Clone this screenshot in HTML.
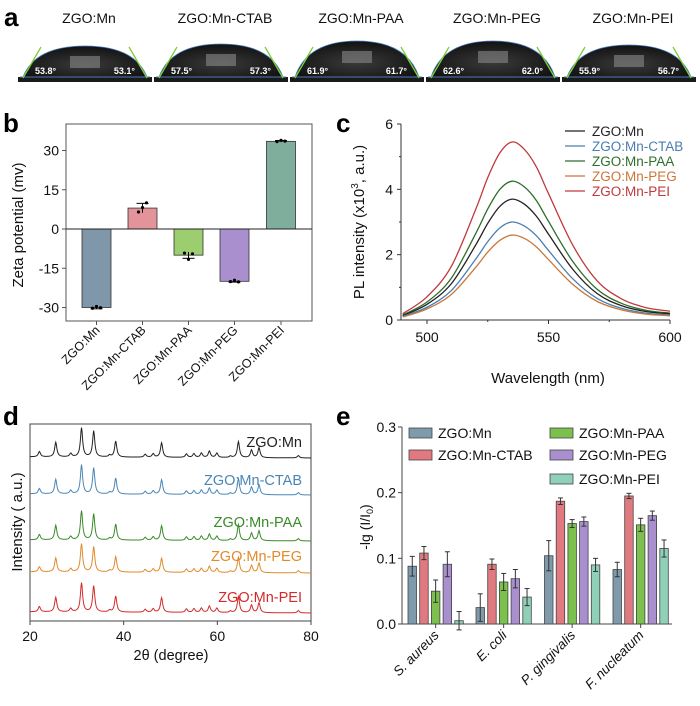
<!DOCTYPE html>
<html><head><meta charset="utf-8">
<style>
body{margin:0;background:#fff;}
svg{display:block;font-family:"Liberation Sans",Arial,sans-serif;}
</style></head>
<body>
<svg id="fig" width="700" height="706" viewBox="0 0 700 706" xmlns="http://www.w3.org/2000/svg">
<defs>
<radialGradient id="dropg" cx="0.5" cy="0.6" r="0.6">
<stop offset="0" stop-color="#3a3a3a"/><stop offset="1" stop-color="#111"/>
</radialGradient>
</defs>
<g id="panelA"></g>
<g id="panelB"></g>
<g id="panelC"></g>
<g id="panelD"></g>
<g id="panelE"></g>
</svg>
<script>
// ---------- DATA ----------
const samples = ["ZGO:Mn","ZGO:Mn-CTAB","ZGO:Mn-PAA","ZGO:Mn-PEG","ZGO:Mn-PEI"];
const angleLeft = ["53.8°","57.5°","61.9°","62.6°","55.9°"];
const angleRight = ["53.1°","57.3°","61.7°","62.0°","56.7°"];
const dropHeights = [31, 33, 36, 36, 32];

const zetaValues = [-30, 8, -10, -20, 33.5];
const zetaErrors = [0.5, 1.8, 1.2, 0.3, 0.3];
const zetaDots = [[-30.3,-29.6,-30.1],[6.5,8.2,10],[-9.2,-11.6,-9.5],[-20.1,-19.6,-20.2],[33.4,33.9,33.6]];
const zetaTicks = [-30,-15,0,15,30];

const wavelengths = [490,500,510,520,525,530,535,540,545,550,560,570,580,590,600];
const plMn   = [0.13,0.48,1.11,2.29,2.96,3.48,3.7,3.55,3.18,2.63,1.55,0.81,0.44,0.26,0.19];
const plCTAB = [0.11,0.39,0.9,1.86,2.4,2.82,3.0,2.88,2.58,2.13,1.26,0.66,0.36,0.21,0.15];
const plPAA  = [0.15,0.55,1.28,2.64,3.4,4.0,4.25,4.08,3.66,3.02,1.79,0.94,0.51,0.3,0.21];
const plPEG  = [0.09,0.34,0.78,1.61,2.08,2.44,2.6,2.5,2.24,1.85,1.09,0.57,0.31,0.18,0.13];
const plPEI  = [0.19,0.71,1.64,3.38,4.36,5.12,5.45,5.23,4.69,3.87,2.29,1.2,0.65,0.38,0.27];
const plTicksY = [0,2,4,6];
const plTicksX = [500,550,600];

const xrdPeakPos = [22.0,25.5,28.7,31.0,33.6,37.0,38.3,44.6,46.3,48.1,53.4,55.0,56.6,58.3,59.9,62.8,64.5,67.3,68.9,77.3];
const xrdPeakHt  = [0.18,0.5,0.12,1.0,0.9,0.06,0.55,0.1,0.12,0.5,0.12,0.13,0.15,0.22,0.15,0.05,0.55,0.26,0.34,0.08];
const xrdScale = [29, 29, 29, 28, 29];
const xrdTicks = [20,40,60,80];

const bacteria = ["S. aureus","E. coli","P. gingivalis","F. nucleatum"];
const absMn   = [0.088,0.025,0.104,0.083];
const absCTAB = [0.108,0.091,0.187,0.195];
const absPAA  = [0.050,0.064,0.153,0.151];
const absPEG  = [0.091,0.069,0.156,0.165];
const absPEI  = [0.005,0.041,0.090,0.115];
const errMn   = [0.015,0.021,0.023,0.011];
const errCTAB = [0.010,0.008,0.005,0.004];
const errPAA  = [0.017,0.013,0.006,0.010];
const errPEG  = [0.019,0.014,0.007,0.007];
const errPEI  = [0.014,0.013,0.010,0.013];
const absTicks = [0.0,0.1,0.2,0.3];

// ---------- HELPERS ----------
const NS="http://www.w3.org/2000/svg";
function mk(tag, attrs, parent, text){
  const e=document.createElementNS(NS,tag);
  for(const k in attrs) e.setAttribute(k,attrs[k]);
  if(text!==undefined) e.textContent=text;
  parent.appendChild(e); return e;
}
function panelLabel(g, ch, x, y){
  const t=mk('text',{x:x,y:y,'font-size':26,'font-weight':'bold',fill:'#000'},g,ch);
  
  
}
function smoothPath(pts){
  let d="M"+pts[0][0]+","+pts[0][1];
  for(let i=0;i<pts.length-1;i++){
    const p0=pts[Math.max(i-1,0)],p1=pts[i],p2=pts[i+1],p3=pts[Math.min(i+2,pts.length-1)];
    const c1=[p1[0]+(p2[0]-p0[0])/6,p1[1]+(p2[1]-p0[1])/6];
    const c2=[p2[0]-(p3[0]-p1[0])/6,p2[1]-(p3[1]-p1[1])/6];
    d+=" C"+c1[0].toFixed(2)+","+c1[1].toFixed(2)+" "+c2[0].toFixed(2)+","+c2[1].toFixed(2)+" "+p2[0].toFixed(2)+","+p2[1].toFixed(2);
  }
  return d;
}

// ---------- PANEL A ----------
(function(){
  const g=document.getElementById('panelA');
  panelLabel(g,'a',4,26);
  const x0=[18,154,290,426,562], w=134;
  samples.forEach((s,i)=>{
    const t=mk('text',{x:x0[i]+w/2+4,y:23,'font-size':14,'text-anchor':'middle',fill:'#111'},g,s);
    
    
    const img=mk('g',{},g);
    
    
    mk('rect',{x:x0[i],y:40,width:w,height:42,fill:'#fff'},img);
    const base=77, h=dropHeights[i];
    const l=x0[i]+5, r=x0[i]+w-5, cx=(l+r)/2;
    mk('path',{d:`M${l},${base} Q${l+12},${base-h} ${cx},${base-h} Q${r-12},${base-h} ${r},${base} Z`,fill:'url(#dropg)',stroke:'#4a7cc0','stroke-width':0.8},img);
    mk('rect',{x:cx-15,y:base-h+10,width:30,height:12,fill:'#888',opacity:0.6},img);
    mk('rect',{x:x0[i],y:base,width:w,height:5,fill:'#1a1a1a'},img);
    mk('line',{x1:x0[i]+2,y1:base,x2:x0[i]+w-2,y2:base,stroke:'#4a7cc0','stroke-width':1},img);
    mk('line',{x1:l,y1:base+1,x2:l+18,y2:base-30,stroke:'#7ccf3a','stroke-width':1.3},img);
    mk('line',{x1:r,y1:base+1,x2:r-18,y2:base-30,stroke:'#7ccf3a','stroke-width':1.3},img);
    const a1=mk('text',{x:l+12,y:base-3,'font-size':9,'font-weight':'bold',fill:'#fff'},img,angleLeft[i]);
    
    
    const a2=mk('text',{x:r-12,y:base-3,'font-size':9,'font-weight':'bold',fill:'#fff','text-anchor':'end'},img,angleRight[i]);
    
    
  });
})();

// ---------- PANEL B ----------
(function(){
  const g=document.getElementById('panelB');
  panelLabel(g,'b',3,132);
  const L=66,R=312,T=124,B=321;
  const y=v=>229-(v/30)*78.5;
  const centers=[96.5,142.5,188.5,234.5,281];
  const bw=29;
  const colors=['#7f97a8','#e3949a','#9ccd6f','#a98fce','#80ae9c'];
  const frame=mk('rect',{x:L,y:T,width:R-L,height:B-T,fill:'none',stroke:'#555','stroke-width':1},g);
  
  
  zetaTicks.forEach(t=>{
    mk('line',{x1:L-4,y1:y(t),x2:L,y2:y(t),stroke:'#555'},g);
    const tl=mk('text',{x:L-7,y:y(t)+5,'font-size':14,'text-anchor':'end',fill:'#111'},g,String(t));
    
    
  });
  zetaValues.forEach((v,i)=>{
    const b=mk('rect',{x:centers[i]-bw/2,y:Math.min(y(v),y(0)),width:bw,height:Math.abs(y(v)-y(0)),fill:colors[i],stroke:'#333','stroke-width':0.8},g);
    
    
    const e=zetaErrors[i];
    mk('line',{x1:centers[i],y1:y(v-e),x2:centers[i],y2:y(v+e),stroke:'#000'},g);
    mk('line',{x1:centers[i]-6,y1:y(v+(v>0?e:-e)),x2:centers[i]+6,y2:y(v+(v>0?e:-e)),stroke:'#000'},g);
    zetaDots[i].forEach((d,j)=>{
      const c=mk('circle',{cx:centers[i]+(j-1)*4,cy:y(d),r:1.6,fill:'#000'},g);
      
      
    });
    mk('line',{x1:centers[i],y1:B,x2:centers[i],y2:B+4,stroke:'#555'},g);
    const tl=mk('text',{x:centers[i]+4,y:B+10,'font-size':12.5,'text-anchor':'end',fill:'#111',transform:`rotate(-45 ${centers[i]+4} ${B+10})`},g,samples[i]);
    
    
  });
  mk('line',{x1:L,y1:y(0),x2:R,y2:y(0),stroke:'#222','stroke-width':1},g);
  const yl=mk('text',{x:23,y:225,'font-size':15,'text-anchor':'middle',fill:'#111',transform:'rotate(-90 23 225)'},g,'Zeta potential (mv)');
  
  
})();

// ---------- PANEL C ----------
(function(){
  const g=document.getElementById('panelC');
  panelLabel(g,'c',336,132);
  const L=401,R=670,T=124,B=320;
  const x=w=>427+(w-500)*(243/100);
  const y=v=>B-v*(196/6);
  mk('line',{x1:L,y1:T,x2:L,y2:B,stroke:'#333'},g);
  mk('line',{x1:L,y1:B,x2:R,y2:B,stroke:'#333'},g);
  plTicksY.forEach(t=>{
    mk('line',{x1:L-4,y1:y(t),x2:L,y2:y(t),stroke:'#333'},g);
    const tl=mk('text',{x:L-8,y:y(t)+5,'font-size':14,'text-anchor':'end',fill:'#111'},g,String(t));
    
    
  });
  [1,3,5].forEach(t=>mk('line',{x1:L-2,y1:y(t),x2:L,y2:y(t),stroke:'#333'},g));
  plTicksX.forEach(t=>{
    mk('line',{x1:x(t),y1:B,x2:x(t),y2:B+4,stroke:'#333'},g);
    const tl=mk('text',{x:x(t),y:B+22,'font-size':14,'text-anchor':'middle',fill:'#111'},g,String(t));
    
    
  });
  [525,575].forEach(t=>mk('line',{x1:x(t),y1:B,x2:x(t),y2:B+2,stroke:'#333'},g));
  const series=[plPEI,plPAA,plMn,plCTAB,plPEG];
  const order=[4,2,0,1,3];
  const colors=['#222','#4a7fb0','#2e6e2a','#c8783a','#c0393b'];
  series.forEach((s,k)=>{
    const i=order[k];
    const p=mk('path',{d:smoothPath(wavelengths.map((w,j)=>[x(w),y(s[j])])),fill:'none',stroke:colors[i],'stroke-width':1.3},g);
    
    
  });
  samples.forEach((s,i)=>{
    const ly=131+i*15;
    const le=mk('g',{},g);
    
    
    mk('line',{x1:565,y1:ly,x2:585,y2:ly,stroke:colors[i],'stroke-width':1.3},le);
    mk('text',{x:592,y:ly+5,'font-size':13.5,fill:colors[i]},le,s);
  });
  const yl=mk('text',{x:364,y:222,'font-size':15,'text-anchor':'middle',fill:'#111',transform:'rotate(-90 364 222)'},g);
  
  
  yl.innerHTML='PL intensity (x10<tspan dy="-6" font-size="10">3</tspan><tspan dy="6">, a.u.)</tspan>';
  const xl=mk('text',{x:548,y:383,'font-size':15,'text-anchor':'middle',fill:'#111'},g,'Wavelength (nm)');
  
  
})();

// ---------- PANEL D ----------
(function(){
  const g=document.getElementById('panelD');
  panelLabel(g,'d',3,425);
  const L=30,R=311,T=424,B=621;
  const x=t=>L+(t-20)*(R-L)/60;
  const bases=[458,495,541,573,613];
  const colors=['#222','#4a86b5','#3a8a2a','#e08a2a','#d42a2a'];
  const labelY=[447,485,527,561,602];
  const f=mk('rect',{x:L,y:T,width:R-L,height:B-T,fill:'none',stroke:'#444','stroke-width':1},g);
  
  
  samples.forEach((s,i)=>{
    let d="";
    for(let t=20;t<=80.001;t+=0.1){
      let v=0;
      xrdPeakPos.forEach((p,k)=>{const w=0.28; v+=xrdPeakHt[k]/(1+((t-p)/w)**2);});
      const yy=bases[i]-v*xrdScale[i]-(80-t)*0.02;
      d+=(d?" L":"M")+x(t).toFixed(2)+","+yy.toFixed(2);
    }
    const p=mk('path',{d:d,fill:'none',stroke:colors[i],'stroke-width':1},g);
    
    
    const tl=mk('text',{x:302,y:labelY[i],'font-size':14.5,'text-anchor':'end',fill:colors[i]},g,s);
    
    
  });
  xrdTicks.forEach(t=>{
    mk('line',{x1:x(t),y1:B,x2:x(t),y2:B+4,stroke:'#444'},g);
    const tl=mk('text',{x:x(t),y:B+20,'font-size':14,'text-anchor':'middle',fill:'#111'},g,String(t));
    
    
  });
  const xl=mk('text',{x:171,y:660,'font-size':14.5,'text-anchor':'middle',fill:'#111'},g,'2θ (degree)');
  
  
  const yl=mk('text',{x:22,y:522,'font-size':15,'text-anchor':'middle',fill:'#111',transform:'rotate(-90 22 522)'},g,'Intensity ( a.u.)');
  
  
})();

// ---------- PANEL E ----------
(function(){
  const g=document.getElementById('panelE');
  panelLabel(g,'e',336,425);
  const L=402,R=672,T=427,B=624;
  const y=v=>B-v*(B-T)/0.3;
  const groupStart=[408,476,544.5,613];
  const step=11.7,bw=8.5;
  const colors=['#7f9aab','#e07a80','#7cc04e','#a98fce','#8fd0b8'];
  const vals=[absMn,absCTAB,absPAA,absPEG,absPEI];
  const errs=[errMn,errCTAB,errPAA,errPEG,errPEI];
  mk('line',{x1:L,y1:T,x2:L,y2:B,stroke:'#444'},g);
  mk('line',{x1:L,y1:B,x2:R,y2:B,stroke:'#444'},g);
  absTicks.forEach(t=>{
    mk('line',{x1:L-4,y1:y(t),x2:L,y2:y(t),stroke:'#444'},g);
    const tl=mk('text',{x:L-6,y:y(t)+5,'font-size':14,'text-anchor':'end',fill:'#111'},g,t.toFixed(1));
    
    
  });
  bacteria.forEach((bname,gi)=>{
    vals.forEach((arr,si)=>{
      const bx=groupStart[gi]+si*step;
      const v=arr[gi],e=errs[si][gi];
      const r=mk('rect',{x:bx,y:y(v),width:bw,height:B-y(v),fill:colors[si],stroke:'#444','stroke-width':0.8},g);
      
      
      const cx=bx+bw/2;
      mk('line',{x1:cx,y1:y(v-e),x2:cx,y2:y(v+e),stroke:'#333'},g);
      mk('line',{x1:cx-2.5,y1:y(v+e),x2:cx+2.5,y2:y(v+e),stroke:'#333'},g);
      mk('line',{x1:cx-2.5,y1:y(v-e),x2:cx+2.5,y2:y(v-e),stroke:'#333'},g);
    });
    const c=groupStart[gi]+(4*step+bw)/2;
    mk('line',{x1:c,y1:B,x2:c,y2:B+4,stroke:'#444'},g);
    const tl=mk('text',{x:c+4,y:B+12,'font-size':13.5,'text-anchor':'end',fill:'#111',transform:`rotate(-45 ${c+4} ${B+12})`},g);
    
    
    const parts=bname.split(' ');
    tl.innerHTML='<tspan font-style="italic">'+parts[0]+'</tspan> <tspan font-style="italic">'+parts[1]+'</tspan>';
  });
  const legPos=[[409,433],[409,455],[550,433],[550,455],[550,479]];
  samples.forEach((s,i)=>{
    const le=mk('g',{},g);
    
    
    const [lx,ly]=legPos[i];
    mk('rect',{x:lx,y:ly-5,width:23,height:10,fill:colors[i],stroke:'#444','stroke-width':0.8},le);
    mk('text',{x:lx+29,y:ly+5,'font-size':14,fill:'#111'},le,s);
  });
  const yl=mk('text',{x:370,y:527,'font-size':14,'text-anchor':'middle',fill:'#111',transform:'rotate(-90 370 527)'},g);
  
  
  yl.innerHTML='-lg (I/I<tspan dy="3" font-size="9">0</tspan><tspan dy="-3">)</tspan>';
})();
</script>
</body></html>
